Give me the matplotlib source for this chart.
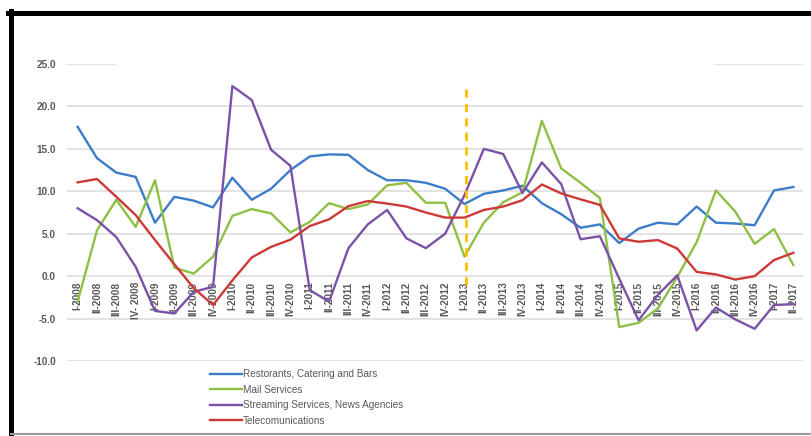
import matplotlib.pyplot as plt
from matplotlib.lines import Line2D

plt.rcParams['font.family'] = ['Liberation Sans', 'DejaVu Sans']

quarters = ['I-2008', 'II-2008', 'III-2008', 'IV- 2008',
            'I-2009', 'II-2009', 'III-2009', 'IV-2009',
            'I-2010', 'II-2010', 'III-2010', 'IV-2010',
            'I-2011', 'II-2011', 'III-2011', 'IV-2011',
            'I-2012', 'II-2012', 'III-2012', 'IV-2012',
            'I-2013', 'II-2013', 'III-2013', 'IV-2013',
            'I-2014', 'II-2014', 'III-2014', 'IV-2014',
            'I-2015', 'II-2015', 'III-2015', 'IV-2015',
            'I-2016', 'II-2016', 'III-2016', 'IV-2016',
            'I-2017', 'II-2017']

restaurants = [17.6, 13.9, 12.2, 11.7, 6.3, 9.35, 8.9, 8.1, 11.6, 9.0,
               10.3, 12.5, 14.1, 14.35, 14.3, 12.5, 11.3, 11.3, 11.0, 10.3,
               8.5, 9.7, 10.1, 10.65, 8.6, 7.3, 5.7, 6.1, 3.9, 5.6,
               6.3, 6.1, 8.2, 6.3, 6.2, 6.0, 10.1, 10.5]
mail = [-3.0, 5.4, 9.0, 5.8, 11.3, 1.0, 0.3, 2.3, 7.1, 7.9,
        7.4, 5.15, 6.4, 8.6, 7.9, 8.45, 10.7, 11.0, 8.65, 8.65,
        2.3, 6.3, 8.7, 9.9, 18.3, 12.7, 11.0, 9.2, -6.0, -5.5,
        -3.8, -0.1, 4.0, 10.1, 7.6, 3.8, 5.55, 1.3]
streaming = [8.0, 6.6, 4.6, 1.1, -4.1, -4.4, -1.85, -1.25, 22.4, 20.75,
             14.9, 13.0, -1.65, -3.0, 3.3, 6.1, 7.8, 4.45, 3.3, 5.0,
             9.55, 15.0, 14.4, 9.8, 13.4, 10.85, 4.35, 4.7, -0.3, -5.2,
             -2.2, 0.1, -6.4, -3.7, -5.1, -6.2, -3.4, -3.3]
telecom = [11.05, 11.45, 9.35, 7.2, 4.25, 1.4, -1.4, -3.4, -0.5, 2.2,
           3.45, 4.3, 5.9, 6.7, 8.25, 8.85, 8.55, 8.2, 7.5, 6.9,
           6.9, 7.8, 8.2, 8.95, 10.8, 9.75, 9.05, 8.4, 4.45, 4.05,
           4.25, 3.25, 0.5, 0.2, -0.4, 0.0, 1.9, 2.75]

series = [
    ('Restorants, Catering and Bars', restaurants, '#3d7cc9'),
    ('Mail Services', mail, '#8fbf45'),
    ('Streaming Services, News Agencies', streaming, '#7a52a8'),
    ('Telecomunications', telecom, '#cc3a36'),
]

break_quarter = 'I-2013'
y_ticks = [25, 20, 15, 10, 5, 0, -5, -10]

fig = plt.figure(figsize=(8.12, 4.36), dpi=100)
ax = fig.add_axes([67 / 812, 75 / 436, 736 / 812, 297 / 436])

x = list(range(len(quarters)))

# horizontal gridlines; the top one is broken where the title box sat
for v in y_ticks:
    if v == 25:
        ax.axhline(v, xmin=0, xmax=0.065, color='#e3e3e3', lw=1, zorder=0)
        ax.axhline(v, xmin=0.88, xmax=1, color='#e3e3e3', lw=1, zorder=0)
    else:
        ax.axhline(v, color='#dedede', lw=1.2, zorder=0)

for name, vals, col in series:
    ax.plot(x, vals, color=col, lw=1.7, label=name, zorder=3)

bx = quarters.index(break_quarter)
ax.plot([bx + 0.08, bx + 0.08], [-1.0, 22.7], color='#ffc000', lw=2,
        ls=(0, (3, 2.2)), zorder=4)

ax.set_xlim(-0.55, len(quarters) - 0.5)
ax.set_ylim(-10, 25)
ax.set_yticks(y_ticks)
ax.set_yticklabels([f'{v:.1f}' for v in y_ticks])
ax.set_xticks(x)
ax.set_xticklabels(quarters)

for s in ax.spines.values():
    s.set_visible(False)
ax.spines['bottom'].set_position(('data', 0))
ax.tick_params(axis='both', length=0, colors='#595959', labelsize=7.2)
ax.tick_params(axis='y', pad=8)
ax.tick_params(axis='x', pad=4, labelrotation=90)
for lbl in ax.get_xticklabels() + ax.get_yticklabels():
    lbl.set_fontweight('bold')

leg = fig.legend(loc='upper left', bbox_to_anchor=(203 / 812, 1 - 362 / 436),
                 frameon=False, fontsize=7.2, handlelength=3.2,
                 handletextpad=0.1, labelspacing=0.55, borderpad=0.2)
for t in leg.get_texts():
    t.set_color('#595959')

# outer frame lines
fig.add_artist(Line2D([8 / 812, 1], [1 - 13 / 436, 1 - 13 / 436], color='black', lw=3.6))
fig.add_artist(Line2D([11 / 812, 11 / 812], [1 - 11 / 436, 0], color='black', lw=3.6))
fig.add_artist(Line2D([11 / 812, 1], [1 - 434 / 436, 1 - 434 / 436], color='#9a9a9a', lw=1.5))

fig.savefig('out.png', dpi=100)
